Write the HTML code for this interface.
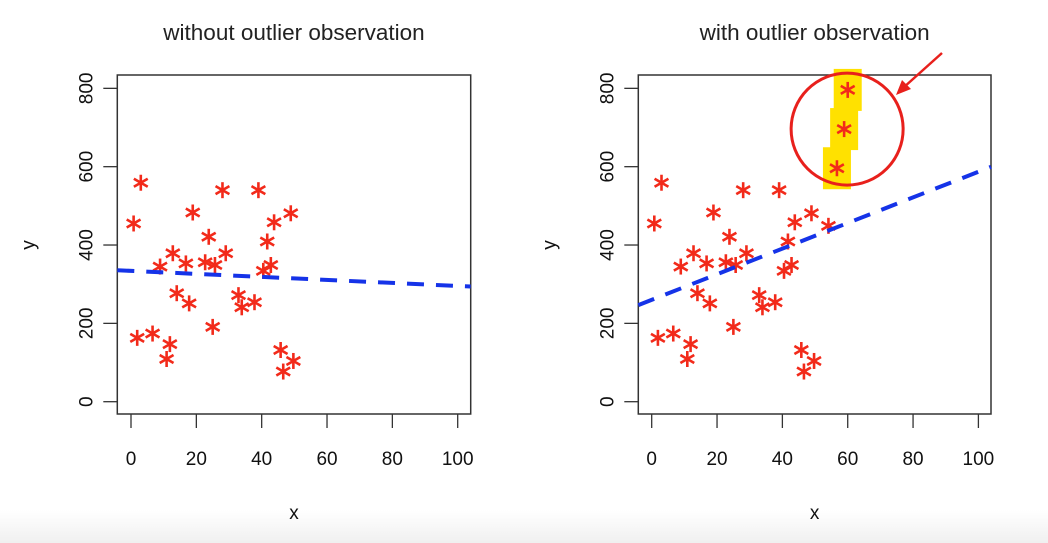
<!DOCTYPE html>
<html><head><meta charset="utf-8"><style>
body{margin:0;background:#fff;width:1048px;height:543px;overflow:hidden;font-family:"Liberation Sans",sans-serif}
svg{display:block}
</style></head><body>
<svg id="chart" width="1048" height="543" xmlns="http://www.w3.org/2000/svg">
<defs><linearGradient id="fade" x1="0" y1="0" x2="0" y2="1"><stop offset="0" stop-color="#fff"/><stop offset="1" stop-color="#f0f0f0"/></linearGradient></defs>
<rect x="0" y="510" width="1048" height="33" fill="url(#fade)"/>
</svg>
<script>
const xs=[3.0,0.8,18.9,28,39,48.9,43.8,41.7,23.8,12.8,29,8.9,16.8,22.7,25.7,40.5,42.8,14,17.8,32.9,33.9,37.8,25,1.9,6.6,11.9,10.9,45.8,49.7,46.6];
const ys=[559,455,483,540,540,481,458,409,421,379,379,345,353,356,349,334,349,277,251,272,241,254,191,163,174,147,109,132,104,77];
const extraX=[54.1,56.7,58.9,60];
const extraY=[449,596,696,796];
const outlierX=[56.7,58.9,60];
const outlierY=[596,696,796];
const fitLeft=[334,-0.385];
const fitRight=[260,3.27];
const xTicks=[0,20,40,60,80,100];
const yTicks=[0,200,400,600,800];
const titles=["without outlier observation","with outlier observation"];

const NS="http://www.w3.org/2000/svg";
const svg=document.getElementById('chart');
function el(t,a,p){const e=document.createElementNS(NS,t);for(const k in a)e.setAttribute(k,a[k]);(p||svg).appendChild(e);return e;}

function panel(idx,box,x0px,X,Y,fit){
  const sx=v=>x0px+v*3.267, sy=v=>401.7-v*0.3917;
  const g=el('g',{});
  
  
  const t=el('text',{x:(box[0]+box[1])/2,y:40,'text-anchor':'middle','font-size':22.5,fill:'#222'},g);
  t.textContent=titles[idx];
  
  
  const r=el('rect',{x:box[0],y:75,width:box[1]-box[0],height:339,fill:'none',stroke:'#333','stroke-width':1.5},g);
  
  
  xTicks.forEach(v=>{
    const l=el('line',{x1:sx(v),x2:sx(v),y1:414,y2:428,stroke:'#333','stroke-width':1.3},g);
    
    
    const tt=el('text',{x:sx(v),y:465,'text-anchor':'middle','font-size':19,fill:'#111'},g);
    tt.textContent=v;
    
    
  });
  yTicks.forEach(v=>{
    const l=el('line',{x1:box[0]-14,x2:box[0],y1:sy(v),y2:sy(v),stroke:'#333','stroke-width':1.3},g);
    
    
    const tx=box[0]-30, ty=sy(v);
    const tt=el('text',{x:tx,y:ty,'text-anchor':'middle','font-size':19,fill:'#111',transform:`rotate(-90 ${tx} ${ty})`,'dominant-baseline':'middle'},g);
    tt.textContent=v;
    
    
  });
  const xl=el('text',{x:(box[0]+box[1])/2,y:519,'text-anchor':'middle','font-size':19,fill:'#111'},g);
  xl.textContent='x';
  
  
  const yx=box[0]-88;
  const yl=el('text',{x:yx,y:245,'text-anchor':'middle','font-size':19,fill:'#111',transform:`rotate(-90 ${yx} 245)`,'dominant-baseline':'middle'},g);
  yl.textContent='y';
  
  
  if(idx){
    outlierX.forEach((v,i)=>{
      const hr=el('rect',{x:sx(v)-14,y:sy(outlierY[i])-21,width:28,height:42,fill:'#ffe100'},g);
      
      
    });
  }
  X.forEach((v,i)=>{
    const cx=sx(v), cy=sy(Y[i]);
    const s=el('g',{stroke:'#f22a1a','stroke-width':2.6,'stroke-linecap':'butt'},g);
    
    
    [90,30,150].forEach(a=>{
      const rad=a*Math.PI/180, dx=8*Math.cos(rad), dy=8*Math.sin(rad);
      el('line',{x1:cx-dx,y1:cy-dy,x2:cx+dx,y2:cy+dy},s);
    });
  });
  const xa=(box[0]-x0px)/3.267, xb=(box[1]-x0px)/3.267;
  const ln=el('line',{x1:box[0],y1:sy(fit[0]+fit[1]*xa),x2:box[1],y2:sy(fit[0]+fit[1]*xb),stroke:'#1533e8','stroke-width':4,'stroke-dasharray':'17 12'},g);
  
  
  if(idx){
    const cx=sx(outlierX[1]), cy=sy(outlierY[1]);
    const c=el('circle',{cx:cx+3,cy:cy,r:56,fill:'none',stroke:'#e8201c','stroke-width':3},g);
    
    
    const a=el('line',{x1:942,y1:53,x2:903,y2:88,stroke:'#e8201c','stroke-width':2.5},g);
    
    
    const h=el('polygon',{points:'896,95 902,80 911,89',fill:'#e8201c'},g);
    
    
  }
}
panel(0,[117.3,470.7],131,xs,ys,fitLeft);
panel(1,[638.3,991],651.7,xs.concat(extraX),ys.concat(extraY),fitRight);
</script>
</body></html>
